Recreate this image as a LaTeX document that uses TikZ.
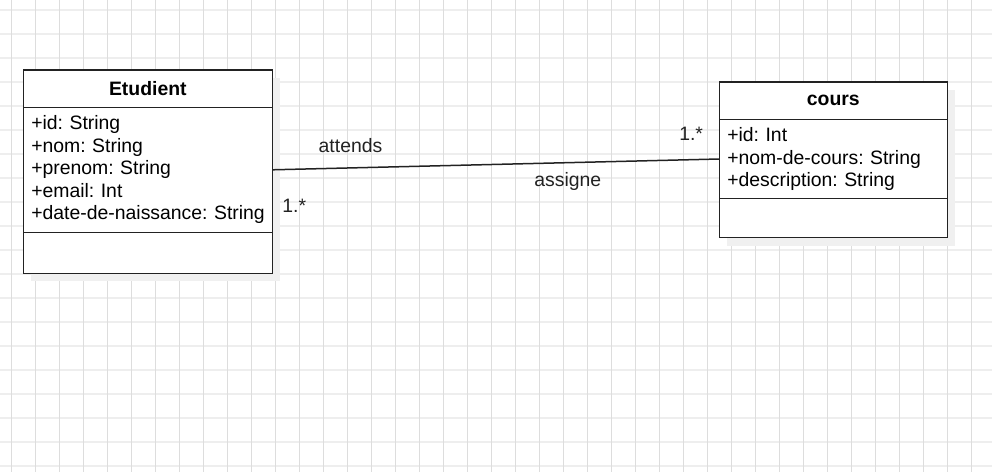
\documentclass[tikz,border=0pt]{standalone}
\usepackage{fontspec}
\setmainfont{Liberation Sans}
\usetikzlibrary{positioning,shadows}

\definecolor{gridV}{HTML}{DDDDDD}
\definecolor{gridH}{HTML}{EEEEEE}
\definecolor{umlLine}{HTML}{222222}
\newcommand{\umlfont}{\fontsize{19.4}{22.5}\selectfont}
\frenchspacing

\begin{document}
\begin{tikzpicture}[x=1pt, y=-1pt,
        umlpart/.style={draw=umlLine, line width=1.5pt, fill=white, outer sep=0pt, inner sep=0pt,
            drop shadow={shadow xshift=8pt, shadow yshift=-8pt, fill=black!6, opacity=1}},
        classhead/.style={umlpart, font=\umlfont\bfseries, minimum height=37.3pt},
        classattr/.style={umlpart, font=\umlfont, align=left, inner xsep=8pt},
        umllabel/.style={font=\umlfont, text=umlLine, inner sep=0pt}]
        \useasboundingbox (0,0) rectangle (992,472);
        % grid
        \foreach \gy in {0,...,19}
            \draw[gridH, line width=2pt] (0,{9.7+24*\gy}) -- (992,{9.7+24*\gy});
        \foreach \gx in {0,...,41}
            \draw[gridV, line width=1pt] ({11.3+24*\gx},0) -- ({11.3+24*\gx},472);
        % Etudient
        \node[classhead, minimum width=249pt] (etudHead) at (147.8,88.65) {Etudient};
        \node[classattr, text width=233pt, minimum height=125pt, below=0pt of etudHead] (etudAttr)
            {+id: String\\+nom: String\\+prenom: String\\+email: Int\\\mbox{+date-de-naissance: String}};
        \node[umlpart, minimum width=249pt, minimum height=41pt, below=0pt of etudAttr] (etudOps) {};
        % cours
        \node[classhead, minimum width=228pt] (coursHead) at (833.3,100.65) {cours};
        \node[classattr, text width=212pt, minimum height=79.4pt, below=0pt of coursHead] (coursAttr)
            {+id: Int\\+nom-de-cours: String\\+description: String};
        \node[umlpart, minimum width=228pt, minimum height=39pt, below=0pt of coursAttr] (coursOps) {};
        % association
        \draw[umlLine, line width=1.5pt] (etudAttr.east) --
            node[umllabel, pos=0.175, yshift=22.4pt] (lblAttends) {attends}
            node[umllabel, pos=0.661, yshift=-18.5pt] (lblAssigne) {assigne}
            node[umllabel, pos=0.049, yshift=-36.5pt] (multEtud) {1.*}
            node[umllabel, pos=0.937, yshift=26.3pt] (multCours) {1.*}
            (coursAttr.west);
    \end{tikzpicture}
\end{document}
